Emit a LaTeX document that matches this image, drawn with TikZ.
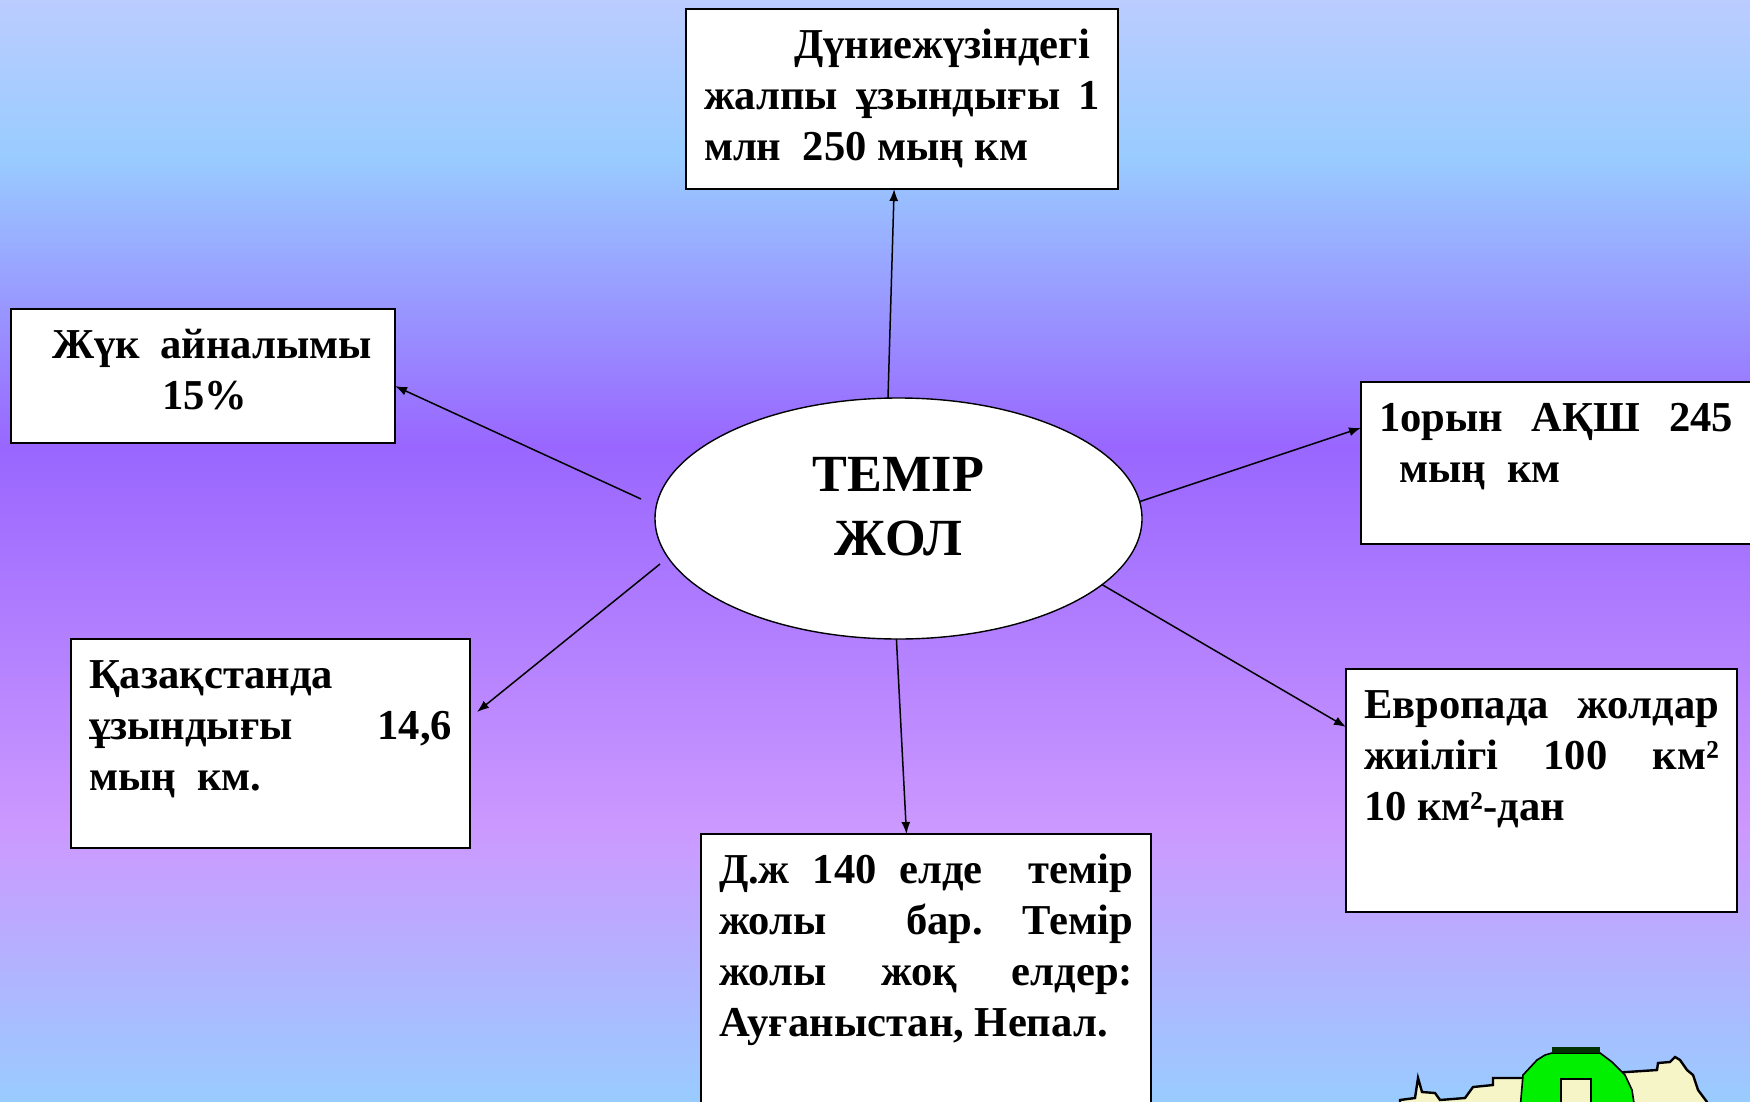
\documentclass[tikz,border=0pt]{standalone}
\usepackage{fontspec}
\setmainfont{Liberation Serif}
\usetikzlibrary{arrows.meta,shapes.geometric}
\definecolor{bgtop}{HTML}{BBCCFF}
\definecolor{bgsky}{HTML}{99CCFF}
\definecolor{bgviolet}{HTML}{9966FF}
\definecolor{bglilac}{HTML}{CC99FF}
\definecolor{cream}{HTML}{F5F5C8}
\definecolor{ringgreen}{HTML}{00F000}
\definecolor{darkgreen}{HTML}{003300}
\newcommand{\boxtext}[3]{\parbox[t][#2][t]{#1}{\raggedright\strut #3}}
\tikzset{
  infobox/.style={draw,fill=white,line width=1pt,rectangle,inner xsep=9pt,inner ysep=6.6pt,
    outer sep=0pt,font=\bfseries\fontsize{21.3}{25.6}\selectfont},
  hubnode/.style={draw,fill=white,line width=.7pt,ellipse,inner sep=0pt,outer sep=0pt,
    minimum width=243.5pt,minimum height=120.5pt,font=\bfseries\fontsize{26.1}{32}\selectfont},
  railarrow/.style={line width=.75pt,-{Latex[length=6pt,width=4.5pt]}}
}
\begin{document}
\begin{tikzpicture}
  [x=.5pt,y=-.5pt]
  \clip (0,0) rectangle (1750,1102);

  % background bands
  \foreach \ya/\yb/\ca/\cb in {0/157/bgtop/bgsky,156/447/bgsky/bgviolet,446/831/bgviolet/bglilac,830/1102/bglilac/bgsky}
    \shade[top color=\ca,bottom color=\cb] (0,\ya) rectangle (1750,\yb);

  % corner map
  \draw[fill=cream,line width=1.2pt] (1400,1110) -- (1400,1100) -- (1415,1098) -- (1418,1078) -- (1422,1092)
    -- (1435,1093) -- (1440,1100) -- (1465,1098) -- (1473,1087) -- (1493,1085) -- (1493,1078) -- (1523,1078)
    -- (1627,1072) -- (1657,1070) -- (1658,1063) -- (1670,1062) -- (1675,1057) -- (1680,1060) -- (1687,1070)
    -- (1693,1075) -- (1698,1090) -- (1707,1102) -- (1707,1110) -- cycle;
  \draw[fill=ringgreen,line width=.8pt] (1520,1110) -- (1523,1075) -- (1537,1060) -- (1545,1055) -- (1552,1053) -- (1600,1053)
    -- (1612,1062) -- (1625,1075) -- (1632,1090) -- (1635,1110) -- cycle;
  \fill[darkgreen] (1552,1047) rectangle (1600,1053);
  \draw[fill=cream,line width=1pt] (1561,1110) -- (1561,1079) -- (1591,1079) -- (1591,1110);

  \node (hub)[hubnode] at (898.5,518.5) {\parbox{100pt}{\centering ТЕМІР\\ЖОЛ\par\vspace{12pt}}};

  \node (world)[infobox] at (902,99) {\boxtext{198pt}{76.8pt}{\hspace*{45pt}Дүниежүзіндегі\\
    жалпы\hfill ұзындығы\hfill 1\\
    млн~~250 мың км}};
  \node (usa)[infobox] at (1560.5,463) {\boxtext{181.5pt}{67.8pt}{1орын\hfill АҚШ\hfill 245\hspace*{4.5pt}\mbox{}\\
    \hspace*{10pt}мың~~км}};
  \node (europe)[infobox] at (1541.5,790.5) {\boxtext{177.5pt}{108.3pt}{Европада\hfill жолдар\\
    жиілігі\hfill 100\hfill км²\\
    10 км²-дан}};
  \node (count)[infobox] at (926,973) {\boxtext{207pt}{125.8pt}{Д.ж\hfill 140\hfill елде\hfill\hfill темір\\
    жолы\hfill\hfill бар.\hfill Темір\\
    жолы\hfill жоқ\hfill елдер:\\
    Ауғаныстан, Непал.}};
  \node (kaz)[infobox] at (270.5,743.5) {\boxtext{181.5pt}{91.3pt}{Қазақстанда\\
    ұзындығы\hfill 14,6\\
    мың~~км.}};
  \node (cargo)[infobox] at (203,376) {\boxtext{174pt}{53.8pt}{\hspace*{11.5pt}Жүк\hfill айналымы\hspace*{2.5pt}\mbox{}\\
    \hspace*{66.5pt}15\%}};

  \coordinate (kazstart) at (660,564);
  \coordinate (kazend) at (477,712);
  \coordinate (cargostart) at (641,499);

  \foreach \from/\to in {hub.95.5/world.265,hub.4.7/usa.170.6,hub.-18.1/europe.162.3,hub.269/count.98.6,kazstart/kazend,cargostart/cargo.357.3}
    \draw[railarrow] (\from) -- (\to);

\end{tikzpicture}
\end{document}
